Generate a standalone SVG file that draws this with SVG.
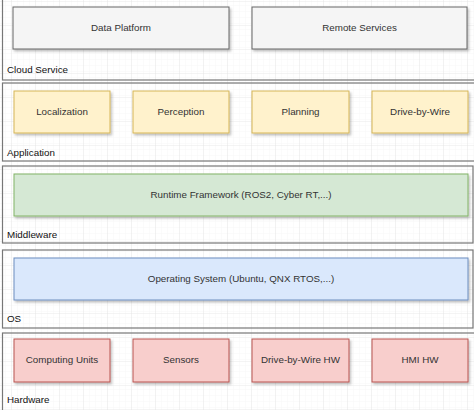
<svg xmlns="http://www.w3.org/2000/svg" width="474" height="410" viewBox="0 0 474 410">
<defs>
<pattern id="minor" width="6" height="6" patternUnits="userSpaceOnUse"><path d="M6 0V6M0 6H6" fill="none" stroke="#f2f2f2" stroke-width="0.6"/></pattern>
<pattern id="major" width="24" height="24" patternUnits="userSpaceOnUse" x="12" y="2"><path d="M24 0V24M0 24H24" fill="none" stroke="#e2e2e2" stroke-width="0.8"/></pattern>
<filter id="sh" x="-10%" y="-10%" width="130%" height="140%"><feDropShadow dx="1.5" dy="2" stdDeviation="0.8" flood-color="#000" flood-opacity="0.25"/></filter>
</defs>
<style>
.layer{fill:none;stroke:#777;stroke-width:1.2}
.box{stroke-width:1;filter:url(#sh)}
.gray{fill:#f5f5f5;stroke:#666}
.yel{fill:#fff2cc;stroke:#d6b656}
.grn{fill:#d5e8d4;stroke:#82b366}
.blu{fill:#dae8fc;stroke:#6c8ebf}
.red{fill:#f8cecc;stroke:#b85450}
.t{font-family:"Liberation Sans",Arial,sans-serif;font-size:9.8px;fill:#333;text-anchor:middle;dominant-baseline:central}
.lt{font-family:"Liberation Sans",Arial,sans-serif;font-size:9.8px;fill:#111;dominant-baseline:central}
</style>
<rect width="474" height="410" fill="#fff"/>
<rect width="474" height="410" fill="url(#minor)"/>
<rect width="474" height="410" fill="url(#major)"/>
<g id="layers">
<g id="cloud"><rect class="layer" x="2.5" y="-5" width="480" height="85"/><text class="lt" x="7" y="69">Cloud Service</text></g>
<g id="application"><rect class="layer" x="2.5" y="83" width="480" height="78"/><text class="lt" x="7" y="152">Application</text></g>
<g id="middleware"><rect class="layer" x="2.5" y="166" width="470.5" height="77"/><text class="lt" x="7" y="234">Middleware</text></g>
<g id="os"><rect class="layer" x="2.5" y="250" width="470.5" height="78"/><text class="lt" x="7" y="318">OS</text></g>
<g id="hardware"><rect class="layer" x="2.5" y="333" width="480" height="90"/><text class="lt" x="7" y="399">Hardware</text></g>
</g>
<g id="data-platform"><rect class="box gray" x="13" y="7" width="216" height="42"/><text class="t" x="121" y="27">Data Platform</text></g>
<g id="remote-services"><rect class="box gray" x="252" y="7" width="215" height="42"/><text class="t" x="359.5" y="27">Remote Services</text></g>
<g id="localization"><rect class="box yel" x="14" y="91" width="96" height="42"/><text class="t" x="62" y="111">Localization</text></g>
<g id="perception"><rect class="box yel" x="133" y="91" width="96" height="42"/><text class="t" x="181" y="111">Perception</text></g>
<g id="planning"><rect class="box yel" x="252" y="91" width="97" height="42"/><text class="t" x="300.5" y="111">Planning</text></g>
<g id="drive-by-wire"><rect class="box yel" x="372" y="91" width="96" height="42"/><text class="t" x="420" y="111">Drive-by-Wire</text></g>
<g id="runtime"><rect class="box grn" x="14" y="174" width="454" height="42"/><text class="t" x="241" y="194">Runtime Framework (ROS2, Cyber RT,...)</text></g>
<g id="operating-system"><rect class="box blu" x="14" y="258" width="454" height="42"/><text class="t" x="241" y="278">Operating System (Ubuntu, QNX RTOS,...)</text></g>
<g id="computing-units"><rect class="box red" x="14" y="339" width="96" height="43"/><text class="t" x="62" y="359">Computing Units</text></g>
<g id="sensors"><rect class="box red" x="133" y="339" width="96" height="43"/><text class="t" x="181" y="359">Sensors</text></g>
<g id="drive-by-wire-hw"><rect class="box red" x="252" y="339" width="97" height="43"/><text class="t" x="300.5" y="359">Drive-by-Wire HW</text></g>
<g id="hmi-hw"><rect class="box red" x="372" y="339" width="96" height="43"/><text class="t" x="420" y="359">HMI HW</text></g>
<g id="connectors"/>
</svg>
